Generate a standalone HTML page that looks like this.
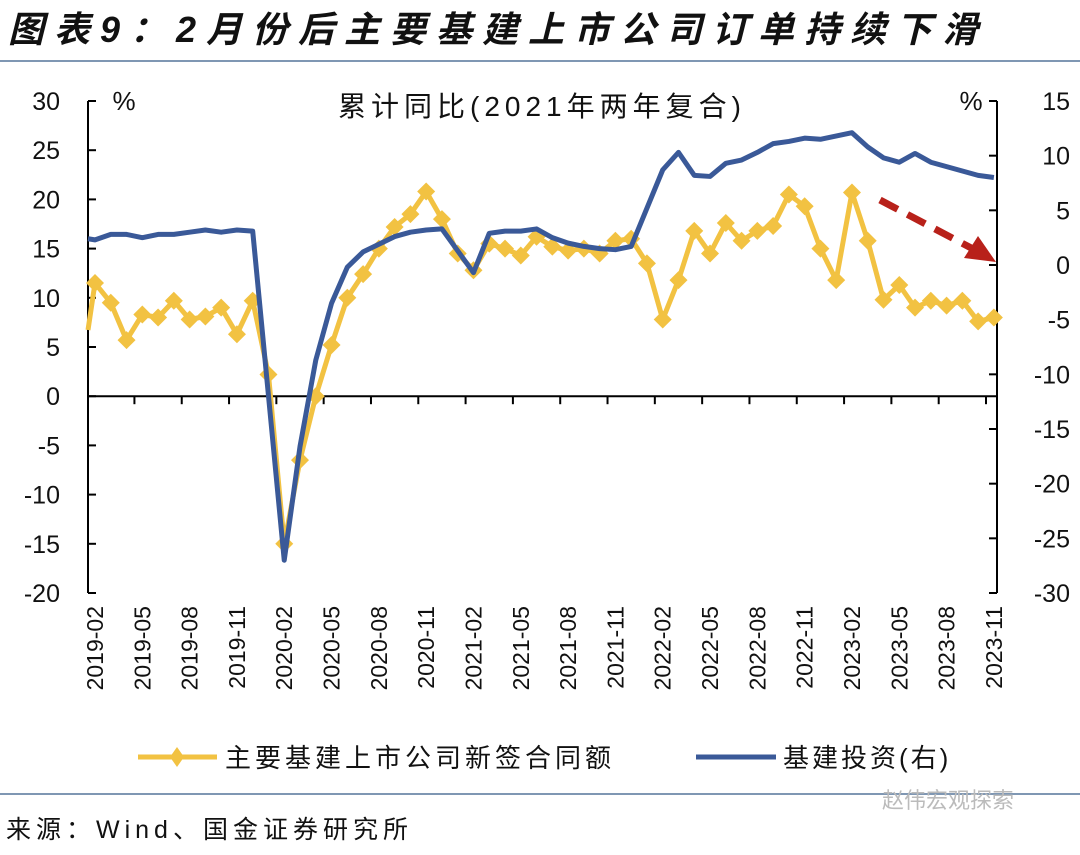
<!DOCTYPE html>
<html><head><meta charset="utf-8"><style>
body{margin:0;background:#fff;width:1080px;height:850px;overflow:hidden;font-family:"Liberation Sans","Noto Sans CJK SC",sans-serif}
</style></head><body>
<svg width="1080" height="850" xmlns="http://www.w3.org/2000/svg">
<text x="8" y="42" font-size="36" font-weight="bold" font-style="italic" fill="#111" letter-spacing="10" font-family="'Liberation Sans','Noto Sans CJK SC',sans-serif">图表9：2月份后主要基建上市公司订单持续下滑</text>
<line x1="0" y1="61" x2="1080" y2="61" stroke="#7f97b3" stroke-width="2"/>
<text x="542" y="116" font-size="28" text-anchor="middle" fill="#111" letter-spacing="5">累计同比(2021年两年复合)</text>
<text x="124" y="110" font-size="26" text-anchor="middle" fill="#111">%</text>
<text x="971" y="110" font-size="26" text-anchor="middle" fill="#111">%</text>
<g id="axes"></g>
<g id="series"></g>
<line x1="880" y1="200" x2="975" y2="250" stroke="#b8211a" stroke-width="7" stroke-dasharray="20,11"/>
<polygon points="996,262 964,258 978,236" fill="#b8211a"/>
<g>
<line x1="138" y1="757" x2="217" y2="757" stroke="#f2c242" stroke-width="5"/>
<polygon points="177,747 184,757 177,767 170,757" fill="#f2c242"/>
<text x="225" y="767" font-size="26" fill="#111" letter-spacing="4">主要基建上市公司新签合同额</text>
<line x1="696" y1="757" x2="776" y2="757" stroke="#3a5998" stroke-width="5"/>
<text x="783" y="767" font-size="26" fill="#111" letter-spacing="3">基建投资(右)</text>
</g>
<line x1="0" y1="794" x2="1080" y2="794" stroke="#7f97b3" stroke-width="2"/>
<text x="6" y="838" font-size="25" fill="#111" letter-spacing="5">来源：Wind、国金证券研究所</text>
<text x="882" y="808" font-size="22" fill="#bbb">赵伟宏观探索</text>
</svg>
<script>
const months=[];
for(let y=2019;y<=2023;y++)for(let m=1;m<=12;m++){if(y===2019&&m===1)continue;if(y===2023&&m===12)continue;months.push(y+'-'+String(m).padStart(2,'0'));}
const ordersYoY=[11.5,9.5,5.7,8.3,8.0,9.7,7.8,8.1,9.0,6.3,9.7,2.2,-15.0,-6.5,0.0,5.2,10.0,12.4,15.0,17.2,18.5,20.8,18.0,14.5,12.8,15.5,15.0,14.3,16.2,15.2,14.8,15.0,14.5,15.8,16.0,13.5,7.8,11.8,16.8,14.5,17.6,15.8,16.8,17.3,20.5,19.3,15.0,11.8,20.7,15.8,9.8,11.3,9.0,9.7,9.2,9.7,7.6,8.0];
const infraYoY=[2.3,2.8,2.8,2.5,2.8,2.8,3.0,3.2,3.0,3.2,3.1,null,-27,-16.6,-8.7,-3.5,-0.2,1.2,1.9,2.6,3.0,3.2,3.3,null,-0.7,2.9,3.1,3.1,3.3,2.5,2.0,1.7,1.5,1.4,1.7,null,8.7,10.3,8.2,8.1,9.3,9.6,10.3,11.1,11.3,11.6,11.5,null,12.1,10.8,9.8,9.4,10.2,9.4,9.0,8.6,8.2,8.0];
const leftTicks=[30,25,20,15,10,5,0,-5,-10,-15,-20];
const rightTicks=[15,10,5,0,-5,-10,-15,-20,-25,-30];
const NS="http://www.w3.org/2000/svg";
const L=88,R=997,T=101,B=593,X0=95,STEP=15.77;
const xs=i=>X0+STEP*i;
const yl=v=>T+(30-v)/50*(B-T);
const yr=v=>T+(15-v)/45*(B-T);
function mk(t,a,p){const e=document.createElementNS(NS,t);for(const k in a)e.setAttribute(k,a[k]);p.appendChild(e);return e;}
const ax=document.getElementById('axes'),sr=document.getElementById('series');
let e;
e=mk('line',{x1:L,y1:T,x2:L,y2:B,stroke:'#000','stroke-width':2},ax);


e=mk('line',{x1:R,y1:T,x2:R,y2:B,stroke:'#000','stroke-width':2},ax);


e=mk('line',{x1:L,y1:yl(0),x2:R,y2:yl(0),stroke:'#000','stroke-width':2},ax);


leftTicks.forEach(v=>{const y=yl(v);
 e=mk('line',{x1:L,y1:y,x2:L+8,y2:y,stroke:'#000','stroke-width':2},ax);
 
 
 e=mk('text',{x:60,y:y+9,'font-size':25,'text-anchor':'end',fill:'#111'},ax);e.textContent=v;
 
 });
rightTicks.forEach(v=>{const y=yr(v);
 e=mk('line',{x1:R-8,y1:y,x2:R,y2:y,stroke:'#000','stroke-width':2},ax);
 
 
 e=mk('text',{x:1070,y:y+9,'font-size':25,'text-anchor':'end',fill:'#111'},ax);e.textContent=v;
 
 });
months.forEach((m,i)=>{
 if(i%3===2){e=mk('line',{x1:xs(i+0.5),y1:yl(0),x2:xs(i+0.5),y2:yl(0)+8,stroke:'#000','stroke-width':2},ax);
  
  }
 if(i%3===0){const x=xs(i)+8,y=606;
  e=mk('text',{x:x,y:y,'font-size':23,'text-anchor':'end',fill:'#111',transform:`rotate(-90 ${x} ${y})`},ax);e.textContent=m;
  
  }
});
let d='';ordersYoY.forEach((v,i)=>{d+=(i?'L':'M')+xs(i)+','+yl(v);});
e=mk('path',{d:'M88,330 L'+d.slice(1),fill:'none',stroke:'#f2c242','stroke-width':5,'stroke-linejoin':'round'},sr);


ordersYoY.forEach((v,i)=>{const x=xs(i),y=yl(v);
 e=mk('polygon',{points:`${x},${y-9} ${x+9},${y} ${x},${y+9} ${x-9},${y}`,fill:'#f2c242'},sr);
 
 });
let d2='';infraYoY.forEach((v,i)=>{if(v===null)return;d2+=(d2?'L':'M')+xs(i)+','+yr(v);});
e=mk('path',{d:'M88,'+yr(infraYoY[0]+0.1)+' L'+d2.slice(1),fill:'none',stroke:'#3a5998','stroke-width':5,'stroke-linejoin':'round'},sr);


</script>
</body></html>
